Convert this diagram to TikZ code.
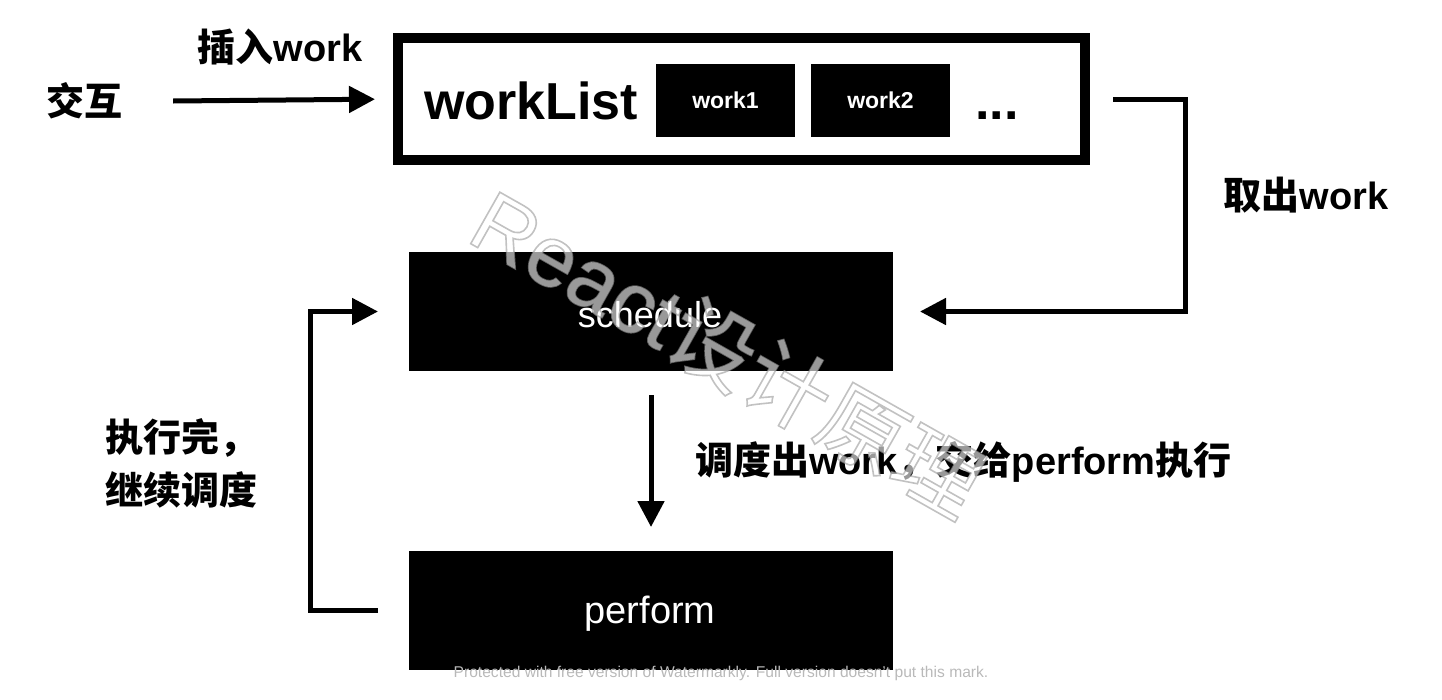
\documentclass[tikz,border=0pt]{standalone}
\usepackage{fontspec}
\setmainfont{Liberation Sans}
\newfontfamily\cjk{Noto Sans CJK SC}
\usetikzlibrary{arrows.meta}
\begin{document}
\begin{tikzpicture}[x=1pt,y=-1pt,
  conn/.style={line width=5pt, -{Triangle[length=26pt,width=26pt]}},
  blackbox/.style={fill=black, inner sep=0pt, outer sep=0pt, text=white},
  lbl/.style={inner sep=0pt, font=\fontsize{38}{53}\selectfont\bfseries}]
\useasboundingbox (0,0) rectangle (1442,699);

% workList container
\node[draw, line width=10pt, minimum width=687pt, minimum height=122pt,
      inner sep=0pt, outer sep=0pt] (wl) at (741.5,99) {};
\node[anchor=base west, inner sep=0pt, font=\fontsize{52}{52}\selectfont\bfseries] (wlt) at (424,119) {workList};
\node[blackbox, minimum width=139pt, minimum height=73pt,
      font=\fontsize{23}{23}\selectfont\bfseries] (w1) at (725.5,100.5) {work1};
\node[blackbox, minimum width=139pt, minimum height=73pt,
      font=\fontsize{23}{23}\selectfont\bfseries] (w2) at (880.5,100.5) {work2};
\node[anchor=base west, inner sep=0pt, font=\fontsize{52}{52}\selectfont\bfseries] (dots) at (975,119) {...};

% schedule / perform
\node[blackbox, minimum width=484pt, minimum height=119pt] (sch) at (651,311.5) {};
\node[text=white, inner sep=0pt, font=\fontsize{36}{36}\selectfont] (scht) at (650,315) {schedule};
\node[blackbox, minimum width=484pt, minimum height=119pt] (perf) at (651,610.5) {};
\node[text=white, inner sep=0pt, font=\fontsize{38}{38}\selectfont] (perft) at (650,614) {perform};

% labels
\node[lbl] (jh) at (84,101) {\cjk\bfseries 交互};
\node[lbl] (ins) at (280,47) {{\cjk\bfseries 插入}work};
\node[lbl] (take) at (1306,195) {{\cjk\bfseries 取出}work};
\node[lbl, anchor=west] (disp) at (695,462) {{\cjk\bfseries 调度出}work{\cjk\bfseries ，交给}perform{\cjk\bfseries 执行}};
\node[lbl, anchor=west, align=left] (loop) at (105,463) {{\cjk\bfseries 执行完，}\\{\cjk\bfseries 继续调度}};

% connectors
\draw[conn, shorten >=23pt] (jh.east) ++(51,0) -- (wl.west);
\draw[conn, shorten >=27pt] ([xshift=28pt]wl.east) -- ++(72,0) |- (sch.east);
\draw[conn, shorten <=24pt, shorten >=24pt] (sch) -- (perf);
\draw[conn, shorten >=31pt] ([xshift=-31pt]perf.west) -- ++(-68,0) |- (sch.west);

% watermarks
\node[text=gray!55, rotate=-29.5, opacity=0.6, inner sep=0pt, font=\fontsize{86}{86}\selectfont] (wm) at (728,352)
  {\special{pdf:literal direct 1 1 1 rg 0.6 0.6 0.6 RG 2 Tr 1.6 w}React{\cjk 设计原理}\special{pdf:literal direct 0 Tr}};
\node[text=gray!55, inner sep=0pt, font=\fontsize{15.6}{15.6}\selectfont] (wm2) at (721,673) {Protected with free version of Watermarkly. Full version doesn't put this mark.};
\end{tikzpicture}
\end{document}
